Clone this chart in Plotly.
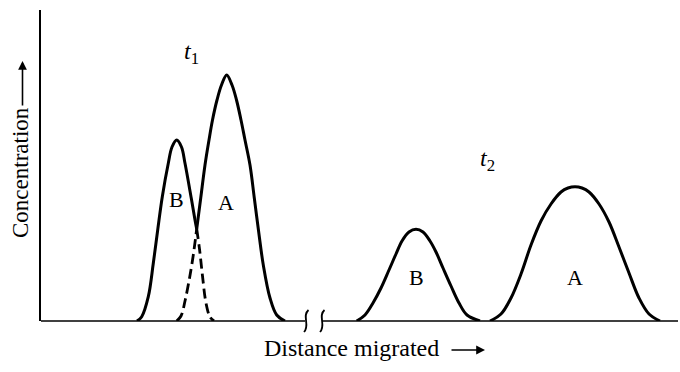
import plotly.graph_objects as go

# ---- data (distance migrated vs concentration, arbitrary units) ----
b1_solid_x = [96, 100.7, 107.3, 112.3, 116.7, 121.3, 127.3, 131, 135.7, 140.5, 144, 150, 154, 155.7]
b1_solid_y = [0, 4.3, 24.3, 57.7, 91, 124.3, 157.7, 174, 181, 174, 157.7, 124.3, 101, 92]
b1_dash_x = [155.7, 158.5, 161.5, 165, 169, 173]
b1_dash_y = [92, 72, 45, 18, 4, 0]

a1_dash_x = [135.7, 140, 144, 148, 152, 155.7]
a1_dash_y = [0, 5, 20, 40, 64, 92]
a1_solid_x = [155.7, 159.7, 164, 168, 171.5, 176, 180.5, 185.7, 191, 195.5, 200, 204, 209,
              213.3, 217.7, 222.3, 229, 235.7, 244]
a1_solid_y = [92, 122.7, 156, 181, 201, 221, 236, 246, 236, 221, 201, 181, 156,
              123, 89, 56, 23, 6, 0]

b2_x = [315.7, 324, 332, 340, 348, 355, 361, 368, 375, 382, 389, 395, 402, 410, 418, 426, 439]
b2_y = [0, 6, 18, 33, 51, 67, 80, 89, 91.7, 89, 80, 69, 53, 35, 18, 6, 0]

a2_x = [449, 460, 470, 480, 490, 500, 510, 520, 527, 534, 541, 548, 558, 568, 578, 588, 598, 608, 619]
a2_y = [0, 7, 23, 47, 76, 100, 117, 129, 133, 134.3, 133, 129, 117, 99, 74, 48, 23, 7, 0]

peak_labels = ["B", "A", "B", "A"]
time_labels = ["<i>t</i><sub>1</sub>", "<i>t</i><sub>2</sub>"]
x_title = "Distance migrated"
y_title = "Concentration"

X_RANGE = [0, 637]
Y_RANGE = [0, 311]

SERIF = "Liberation Serif, Times New Roman, serif"

fig = go.Figure()

def add_curve(x, y, dash=None, width=3):
    fig.add_trace(go.Scatter(
        x=x, y=y, mode="lines",
        line=dict(color="black", width=width, shape="spline", smoothing=1.0,
                  dash=dash or "solid"),
        hoverinfo="skip", showlegend=False, cliponaxis=False))

add_curve(b1_solid_x, b1_solid_y)
add_curve(b1_dash_x, b1_dash_y, dash="10px,5px", width=2.8)
add_curve(a1_dash_x, a1_dash_y, dash="10px,5px", width=2.8)
add_curve(a1_solid_x, a1_solid_y)
add_curve(b2_x, b2_y)
add_curve(a2_x, a2_y)

# ---- annotations (labels) ----
label_pos = [(135.5, 122), (185, 119), (375, 44), (534, 44)]
annos = []
for txt, (lx, ly) in zip(peak_labels, label_pos):
    annos.append(dict(x=lx, y=ly, xref="x", yref="y", text=txt, showarrow=False,
                      xanchor="center", yanchor="middle",
                      font=dict(family=SERIF, size=22, color="black")))
for txt, (lx, ly) in zip(time_labels, [(150, 268), (446, 161)]):
    annos.append(dict(x=lx, y=ly, xref="x", yref="y", text=txt, showarrow=False,
                      xanchor="center", yanchor="middle",
                      font=dict(family=SERIF, size=24, color="black")))

W = X_RANGE[1]
H = Y_RANGE[1]

# axis titles as text + arrows (paper coordinates)
annos.append(dict(x=(20 - 41) / W, y=(321 - 173) / H, xref="paper", yref="paper",
                  xanchor="center", yanchor="middle",
                  text=y_title, textangle=-90, showarrow=False,
                  font=dict(family=SERIF, size=23, color="black")))
annos.append(dict(x=(22.5 - 41) / W, y=(321 - 61) / H, xref="paper", yref="paper",
                  ax=0, ay=46, axref="pixel", ayref="pixel",
                  text="", showarrow=True, arrowhead=2, arrowsize=1.1, arrowwidth=1.6,
                  arrowcolor="black"))
annos.append(dict(x=(351.5 - 41) / W, y=(321 - 348) / H, xref="paper", yref="paper",
                  xanchor="center", yanchor="middle",
                  text=x_title, showarrow=False,
                  font=dict(family=SERIF, size=24, color="black")))
annos.append(dict(x=(485 - 41) / W, y=(321 - 350) / H, xref="paper", yref="paper",
                  ax=-35, ay=0, axref="pixel", ayref="pixel",
                  text="", showarrow=True, arrowhead=2, arrowsize=1.1, arrowwidth=1.6,
                  arrowcolor="black"))

# ---- baseline with axis break ----
gap0 = (305 - 41) / W
gap1 = (322 - 41) / W
shapes = [
    dict(type="line", xref="paper", yref="paper", x0=0, x1=gap0, y0=0, y1=0,
         line=dict(color="black", width=1.6)),
    dict(type="line", xref="paper", yref="paper", x0=gap1, x1=1, y0=0, y1=0,
         line=dict(color="black", width=1.6)),
]
dx = 1.0 / W
dy = 1.0 / H
for gx in (gap0 + 1.5 * dx, gap1 + 0.5 * dx):
    path = (f"M {gx + 2*dx},{11*dy} "
            f"C {gx - 5*dx},{5*dy} {gx + 4*dx},{-4*dy} {gx - 2.5*dx},{-11*dy}")
    shapes.append(dict(type="path", xref="paper", yref="paper", path=path,
                       line=dict(color="black", width=1.8)))

fig.update_layout(
    width=680, height=372,
    margin=dict(l=41, r=2, t=10, b=51),
    paper_bgcolor="white", plot_bgcolor="white",
    showlegend=False,
    annotations=annos,
    shapes=shapes,
    xaxis=dict(range=X_RANGE, showline=False, showgrid=False, zeroline=False,
               showticklabels=False, ticks=""),
    yaxis=dict(range=Y_RANGE, showline=True, linecolor="black", linewidth=1.6,
               showgrid=False, zeroline=False, showticklabels=False, ticks=""),
)

fig.write_html("out.html")
